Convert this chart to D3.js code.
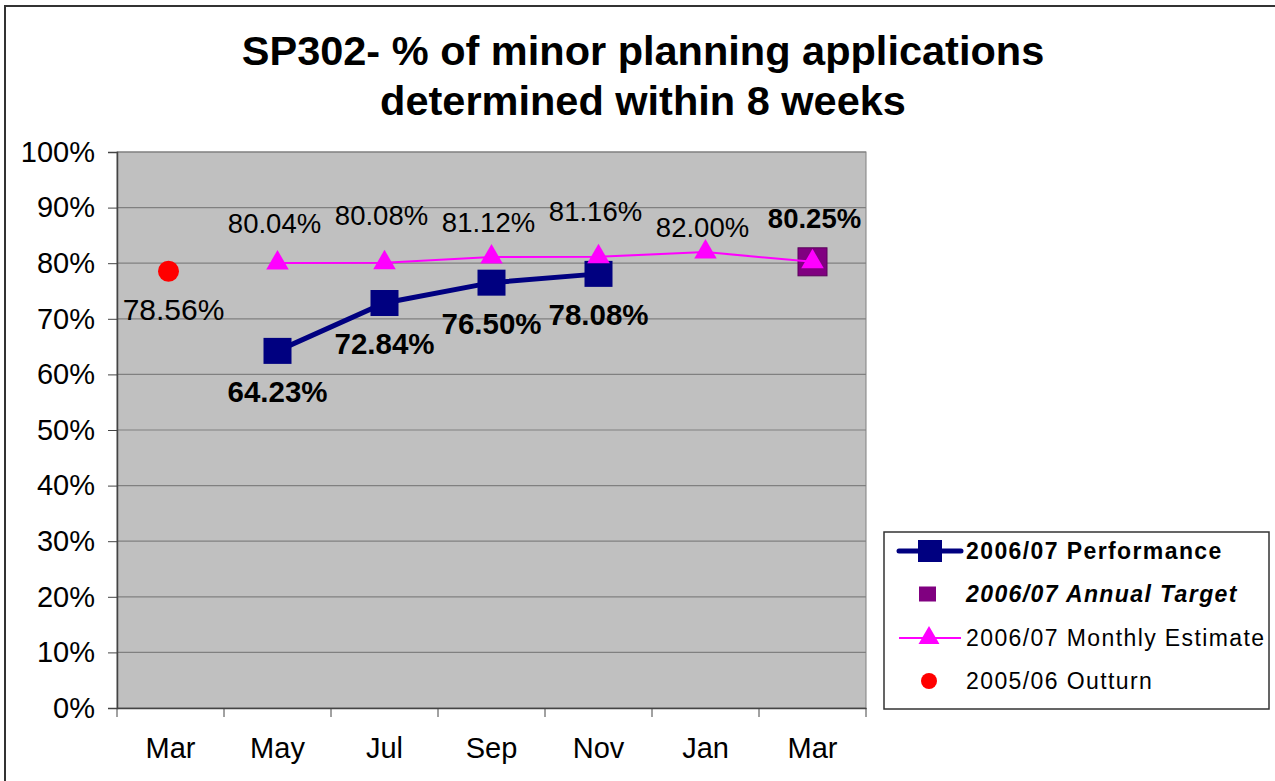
<!DOCTYPE html>
<html>
<head>
<meta charset="utf-8">
<script src="https://cdn.jsdelivr.net/npm/d3@7"></script>
<style>
    body {margin: 0; background: #fff}
    svg {display: block; font-family: "Liberation Sans", Arial, sans-serif}
</style>
</head>
<body>
<div id="chart"></div>
<script>
// chart data
let months = ["Mar", "May", "Jul", "Sep", "Nov", "Jan", "Mar"]
let yTicks = [0, 10, 20, 30, 40, 50, 60, 70, 80, 90, 100]
let performance = [null, 64.23, 72.84, 76.50, 78.08, null, null]
let annualTarget = [null, null, null, null, null, null, 80.25]
let monthlyEstimate = [null, 80.04, 80.08, 81.12, 81.16, 82.00, 80.25]
let outturn = [78.56, null, null, null, null, null, null]
let seriesNames = ["2006/07 Performance", "2006/07 Annual Target", "2006/07 Monthly Estimate", "2005/06 Outturn"]

// label nudges (px above the point) for the estimate labels, as placed in the original
let estLabelDy = [0, -30, -38, -25, -36, -15, null]

let margin = {top: 152, left: 117}
let width = 749
let height = 556

let svg = d3.select("#chart")
    .append("svg")
    .attr("width", 1275)
    .attr("height", 781)

// outer frame
svg.append("rect")
    .attr("x", 5).attr("y", 6)
    .attr("width", 1290).attr("height", 800)
    .attr("fill", "#fff")
    .attr("stroke", "#333")
    .attr("stroke-width", 2)

// title
let title = svg.append("text")
    .attr("text-anchor", "middle")
    .attr("font-size", 41.5)
    .attr("font-weight", "bold")
title.append("tspan").attr("x", 643).attr("y", 65).text("SP302- % of minor planning applications")
title.append("tspan").attr("x", 643).attr("y", 115).text("determined within 8 weeks")

let g = svg.append("g")
    .attr("transform", "translate(" + margin.left + "," + margin.top + ")")

let x = d3.scaleBand()
    .domain(d3.range(months.length))
    .range([0, width])

let y = d3.scaleLinear()
    .domain([0, 100])
    .range([height, 0])

let cx = i => x(i) + x.bandwidth() / 2

// plot background
g.append("rect")
    .attr("width", width)
    .attr("height", height)
    .attr("fill", "#c0c0c0")
    .attr("stroke", "#808080")

// gridlines
g.selectAll(".grid")
    .data(yTicks.slice(1))
    .enter()
    .append("line")
    .attr("x1", 0).attr("x2", width)
    .attr("y1", d => y(d)).attr("y2", d => y(d))
    .attr("stroke", "#808080")
    .attr("stroke-width", 1.2)

// y axis
let yAxis = g.append("g")
    .call(d3.axisLeft(y).tickValues(yTicks).tickSize(9).tickPadding(13).tickFormat(d => d + "%"))
yAxis.selectAll("text").attr("font-size", 29).attr("fill", "#000").attr("font-family", null)
yAxis.selectAll("line").attr("stroke", "#444")
yAxis.select(".domain").attr("stroke", "#444").attr("stroke-width", 1.5)

// x axis: labels at band centres, ticks at band edges
let xAxis = g.append("g")
    .attr("transform", "translate(0," + height + ")")
    .call(d3.axisBottom(x).tickSize(0).tickPadding(29).tickFormat(i => months[i]))
xAxis.selectAll("text").attr("font-size", 29).attr("fill", "#000").attr("font-family", null)
xAxis.select(".domain").attr("stroke", "#444").attr("stroke-width", 1.5)

g.selectAll(".xtick")
    .data(d3.range(months.length + 1))
    .enter()
    .append("line")
    .attr("x1", i => i < months.length ? x(i) : width)
    .attr("x2", i => i < months.length ? x(i) : width)
    .attr("y1", height).attr("y2", height + 9)
    .attr("stroke", "#444")

// 2006/07 Performance
let perfPts = performance.map((v, i) => ({i: i, v: v})).filter(d => d.v !== null)
g.append("path")
    .datum(perfPts)
    .attr("fill", "none")
    .attr("stroke", "#000080")
    .attr("stroke-width", 5)
    .attr("d", d3.line().x(d => cx(d.i)).y(d => y(d.v)))
g.selectAll(".perf")
    .data(perfPts)
    .enter()
    .append("rect")
    .attr("x", d => cx(d.i) - 14)
    .attr("y", d => y(d.v) - 13)
    .attr("width", 28).attr("height", 26)
    .attr("fill", "#000080")
g.selectAll(".perfLabel")
    .data(perfPts)
    .enter()
    .append("text")
    .attr("x", d => cx(d.i))
    .attr("y", d => y(d.v) + 51)
    .attr("text-anchor", "middle")
    .attr("font-size", 29.5)
    .attr("font-weight", "bold")
    .text(d => d.v.toFixed(2) + "%")

// 2006/07 Annual Target
let targetPts = annualTarget.map((v, i) => ({i: i, v: v})).filter(d => d.v !== null)
g.selectAll(".target")
    .data(targetPts)
    .enter()
    .append("rect")
    .attr("x", d => cx(d.i) - 14.5)
    .attr("y", d => y(d.v) - 14)
    .attr("width", 29).attr("height", 28)
    .attr("fill", "#800080")
    .attr("stroke", "#5a005a")
g.selectAll(".targetLabel")
    .data(targetPts)
    .enter()
    .append("text")
    .attr("x", d => cx(d.i) + 2)
    .attr("y", d => y(d.v) - 34)
    .attr("text-anchor", "middle")
    .attr("font-size", 27.5)
    .attr("font-weight", "bold")
    .text(d => d.v.toFixed(2) + "%")

// 2006/07 Monthly Estimate
let estPts = monthlyEstimate.map((v, i) => ({i: i, v: v})).filter(d => d.v !== null)
g.append("path")
    .datum(estPts)
    .attr("fill", "none")
    .attr("stroke", "#ff00ff")
    .attr("stroke-width", 2)
    .attr("d", d3.line().x(d => cx(d.i)).y(d => y(d.v)))
let tri = d3.symbol().type(d3.symbolTriangle).size(220)
g.selectAll(".est")
    .data(estPts)
    .enter()
    .append("path")
    .attr("d", tri)
    .attr("transform", d => "translate(" + cx(d.i) + "," + y(d.v) + ")")
    .attr("fill", "#ff00ff")
g.selectAll(".estLabel")
    .data(estPts.filter(d => estLabelDy[d.i] !== null))
    .enter()
    .append("text")
    .attr("x", d => cx(d.i) - 3)
    .attr("y", d => y(d.v) + estLabelDy[d.i])
    .attr("text-anchor", "middle")
    .attr("font-size", 27.5)
    .text(d => d.v.toFixed(2) + "%")

// 2005/06 Outturn
let outPts = outturn.map((v, i) => ({i: i, v: v})).filter(d => d.v !== null)
g.selectAll(".out")
    .data(outPts)
    .enter()
    .append("circle")
    .attr("cx", d => cx(d.i) - 2)
    .attr("cy", d => y(d.v))
    .attr("r", 10.5)
    .attr("fill", "#ff0000")
g.selectAll(".outLabel")
    .data(outPts)
    .enter()
    .append("text")
    .attr("x", d => cx(d.i) + 3)
    .attr("y", d => y(d.v) + 49)
    .attr("text-anchor", "middle")
    .attr("font-size", 30)
    .text(d => d.v.toFixed(2) + "%")

// legend
let legend = svg.append("g").attr("transform", "translate(884,532)")
legend.append("rect")
    .attr("width", 385).attr("height", 177)
    .attr("fill", "#fff")
    .attr("stroke", "#333")
    .attr("stroke-width", 1.5)

let rowY = [19, 62, 106, 149]
let items = legend.selectAll(".item")
    .data(seriesNames)
    .enter()
    .append("g")
    .attr("transform", (d, i) => "translate(0," + rowY[i] + ")")

// performance key
items.filter((d, i) => i === 0).append("line")
    .attr("x1", 15).attr("x2", 77).attr("stroke", "#000080")
    .attr("stroke-width", 5).attr("stroke-linecap", "round")
items.filter((d, i) => i === 0).append("rect")
    .attr("x", 34).attr("y", -11).attr("width", 24).attr("height", 22).attr("fill", "#000080")
// target key
items.filter((d, i) => i === 1).append("rect")
    .attr("x", 35).attr("y", -7.5).attr("width", 17).attr("height", 15).attr("fill", "#800080")
// estimate key
items.filter((d, i) => i === 2).append("line")
    .attr("x1", 15).attr("x2", 77).attr("stroke", "#ff00ff").attr("stroke-width", 2)
items.filter((d, i) => i === 2).append("path")
    .attr("d", d3.symbol().type(d3.symbolTriangle).size(190))
    .attr("transform", "translate(45,0)")
    .attr("fill", "#ff00ff")
// outturn key
items.filter((d, i) => i === 3).append("circle")
    .attr("cx", 45).attr("r", 8).attr("fill", "#ff0000")

items.append("text")
    .attr("x", 82)
    .attr("y", 8)
    .attr("font-size", 23)
    .attr("letter-spacing", 1.4)
    .attr("font-weight", (d, i) => i < 2 ? "bold" : "normal")
    .attr("font-style", (d, i) => i === 1 ? "italic" : "normal")
    .text(d => d)
</script>
</body>
</html>
